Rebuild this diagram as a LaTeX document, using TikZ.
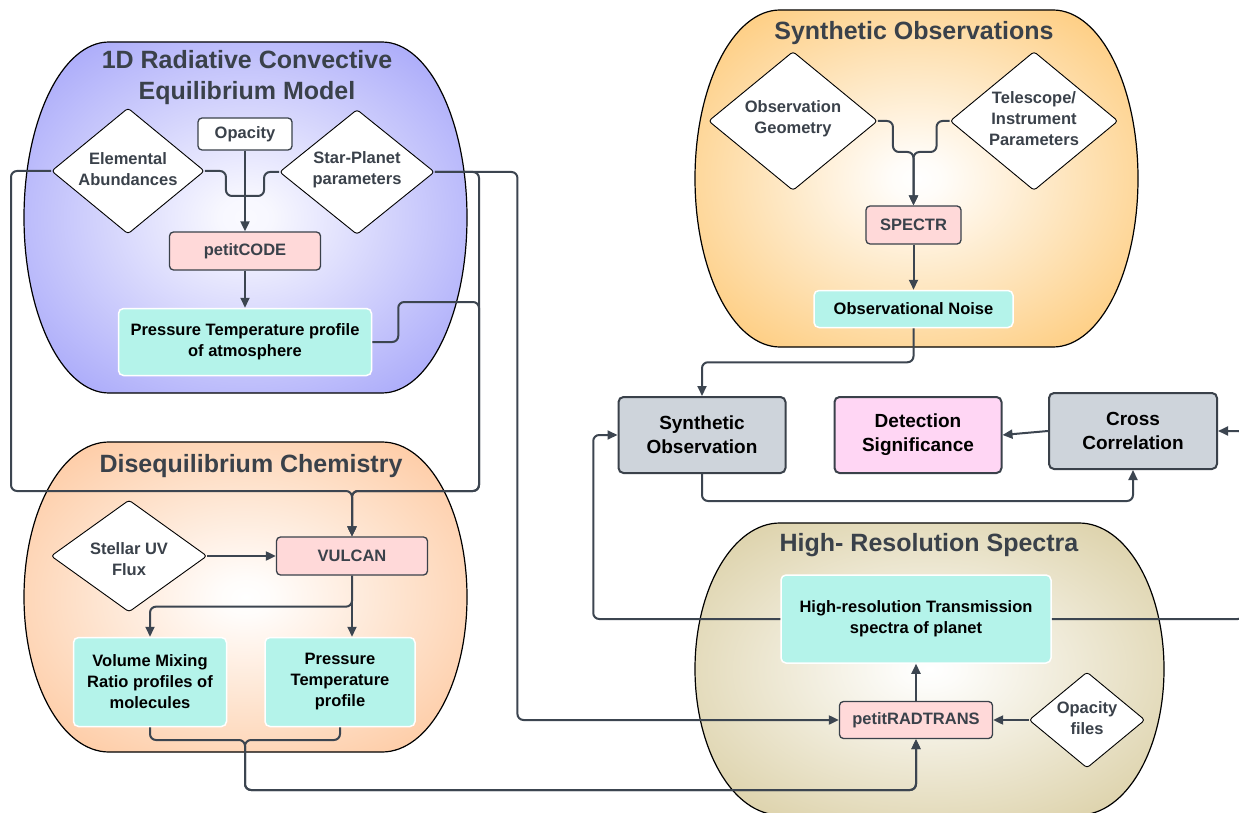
\documentclass[tikz,border=0pt]{standalone}
\usepackage{fontspec}
\setmainfont{Liberation Sans}
\usetikzlibrary{shapes.geometric,arrows.meta,calc}

\definecolor{ink}{HTML}{3A414A}
\definecolor{connc}{HTML}{3C4550}
\definecolor{pinkbox}{HTML}{FFD9D9}
\definecolor{cyanbox}{HTML}{B4F3EA}
\definecolor{graybox}{HTML}{CED4DB}
\definecolor{detbox}{HTML}{FFD6F4}
\definecolor{bblue}{HTML}{9090F8}
\definecolor{borange}{HTML}{FDBB88}
\definecolor{bgold}{HTML}{FDBD58}
\definecolor{bkhaki}{HTML}{D2C490}

\pgfdeclareradialshading{shblue}{\pgfpoint{0bp}{0bp}}{color(0bp)=(white!95!bblue); color(3bp)=(white!93!bblue); color(41bp)=(bblue); color(72bp)=(bblue)}
\pgfdeclareradialshading{shorange}{\pgfpoint{0bp}{0bp}}{color(0bp)=(white); color(3bp)=(white!96!borange); color(41bp)=(borange); color(72bp)=(borange)}
\pgfdeclareradialshading{shgold}{\pgfpoint{0bp}{0bp}}{color(0bp)=(white); color(3bp)=(white!96!bgold); color(41bp)=(bgold); color(72bp)=(bgold)}
\pgfdeclareradialshading{shkhaki}{\pgfpoint{0bp}{0bp}}{color(0bp)=(white); color(3bp)=(white!95!bkhaki); color(41bp)=(bkhaki); color(72bp)=(bkhaki)}

% blob outline: x0 y0 x1 y1 rxTop rxBottom
\newcommand{\blobpath}[6]{(#1+#5,#2) -- (#3-#5,#2)
  arc[start angle=270,end angle=360,x radius=#5,y radius={(#4-#2)/2}]
  arc[start angle=0,end angle=90,x radius=#6,y radius={(#4-#2)/2}]
  -- (#1+#6,#4)
  arc[start angle=90,end angle=180,x radius=#6,y radius={(#4-#2)/2}]
  arc[start angle=180,end angle=270,x radius=#5,y radius={(#4-#2)/2}] -- cycle}

\tikzset{
  blob/.style={draw=black, line width=1.2pt},
  titletext/.style={text=ink, font=\bfseries\fontsize{25}{31}\selectfont, align=center, inner sep=0pt},
  smallfont/.style={font=\bfseries\fontsize{16.5}{21}\selectfont},
  pinkb/.style={rectangle, draw=ink, line width=1.3pt, fill=pinkbox, rounded corners=4pt, text=ink, smallfont, inner sep=0pt},
  whiteb/.style={rectangle, draw=ink, line width=1.3pt, fill=white, rounded corners=4pt, text=ink, smallfont, inner sep=0pt},
  cyanb/.style={rectangle, draw=white, line width=1.5pt, fill=cyanbox, rounded corners=5pt, text=black, smallfont, align=center, inner sep=0pt},
  grayb/.style={rectangle, draw=ink, line width=2pt, fill=graybox, rounded corners=5pt, text=black, font=\bfseries\fontsize{19}{24}\selectfont, align=center, inner sep=0pt},
  detb/.style={grayb, fill=detbox},
  dia/.style={diamond, draw=black, line width=0.9pt, fill=white, inner sep=0pt, rounded corners=3pt},
  diatext/.style={text=ink, smallfont, align=center, inner sep=0pt},
  conn/.style={draw=connc, line width=2pt, rounded corners=6pt},
  arr/.style={conn, -{Triangle[length=10pt,width=9pt]}}
}

\begin{document}
\begin{tikzpicture}[x=1pt,y=-1pt]
\useasboundingbox (0,0) rectangle (1239,813);
\fill[white] (0,0) rectangle (1239,813);
\clip (0,0) rectangle (1239,813);

% ---------- blobs ----------
\path[blob, shading=shblue] \blobpath{24}{42}{467}{393}{85}{85};
\path[blob, shading=shorange] \blobpath{24}{442}{467}{752}{85}{85};
\path[blob, shading=shgold] \blobpath{695}{10}{1138}{347}{85}{85};
\path[blob, shading=shkhaki] \blobpath{695}{523}{1164}{815}{85}{85};

\node[titletext] (t1) at (247,78) {1D Radiative Convective\\Equilibrium Model};
\node[titletext] (t2) at (251,466) {Disequilibrium Chemistry};
\node[titletext] (t3) at (914,33) {Synthetic Observations};
\node[titletext] (t4) at (929,545) {High- Resolution Spectra};

% ---------- 1D RCE ----------
\node[whiteb, minimum width=94pt, minimum height=32pt] (opac) at (245,134) {Opacity};
\node[dia, minimum width=153pt, minimum height=126pt] (elem) at (128,171) {};
\node[diatext] (elemT) at (128,169) {Elemental\\Abundances};
\node[dia, minimum width=155pt, minimum height=125pt] (star) at (357,172) {};
\node[diatext] (starT) at (357,170) {Star-Planet\\parameters};
\node[pinkb, minimum width=151pt, minimum height=38pt] (pcode) at (245,251) {petitCODE};
\node[cyanb, minimum width=253pt, minimum height=67pt] (pt1) at (245,342) {Pressure Temperature profile\\of atmosphere};

% ---------- Disequilibrium ----------
\node[dia, minimum width=156pt, minimum height=112pt] (uv) at (129,556) {};
\node[diatext] (uvT) at (129,559) {Stellar UV\\Flux};
\node[pinkb, minimum width=151pt, minimum height=38pt] (vulcan) at (352,556) {VULCAN};
\node[cyanb, minimum width=153pt, minimum height=89pt] (vmr) at (150,682) {Volume Mixing\\Ratio profiles of\\molecules};
\node[cyanb, minimum width=150pt, minimum height=89pt] (pt2) at (340,682) {Pressure\\Temperature\\profile};

% ---------- Synthetic observations ----------
\node[dia, minimum width=169pt, minimum height=139pt] (geo) at (793,121) {};
\node[diatext] (geoT) at (793,119) {Observation\\Geometry};
\node[dia, minimum width=168pt, minimum height=139pt] (tel) at (1034,121) {};
\node[diatext] (telT) at (1034,119) {Telescope/\\Instrument\\Parameters};
\node[pinkb, minimum width=95pt, minimum height=38pt] (spectr) at (913.5,225) {SPECTR};
\node[cyanb, minimum width=199pt, minimum height=37pt] (noise) at (913.5,309) {Observational Noise};

% ---------- analysis ----------
\node[grayb, minimum width=167pt, minimum height=76pt] (synobs) at (702,435) {Synthetic\\Observation};
\node[detb, minimum width=167pt, minimum height=76pt] (detect) at (918,435) {Detection\\Significance};
\node[grayb, minimum width=168pt, minimum height=76pt] (cross) at (1133,431) {Cross\\Correlation};

% ---------- High resolution ----------
\node[cyanb, minimum width=270pt, minimum height=88pt] (hires) at (916,619) {High-resolution Transmission\\spectra of planet};
\node[pinkb, minimum width=153pt, minimum height=37pt] (prt) at (916,720) {petitRADTRANS};
\node[dia, minimum width=116pt, minimum height=96pt] (opf) at (1087,720) {};
\node[diatext] (opfT) at (1087,718) {Opacity\\files};

% ---------- junction coordinates ----------
\coordinate (jA) at (245,196);
\coordinate (jV) at (352,491);
\coordinate (lX) at (11,491);
\coordinate (rX) at (479,491);
\coordinate (rT) at (479,302);
\coordinate (jB) at (245,740);
\coordinate (bB) at (245,790);
\coordinate (jS) at (913.5,152);

% ---------- connectors ----------
\draw[arr] (opac.south) -- (pcode.north);
\draw[conn] (elem.east) -- ++(21,0) |- (jA);
\draw[conn] (star.west) -- ++(-15,0) |- (jA);
\draw[arr] (pcode.south) -- (pt1.north);

\draw[arr] (elem.west) -| (lX) -- (jV) -- (vulcan.north);
\draw[arr] (star.east) -| (rX) -- (jV) -- (vulcan.north);
\draw[arr] (pt1.east) -- ++(26,0) |- (rT) -- (rX) -- (jV) -- (vulcan.north);
\draw[arr] (star.east) -- ++(82.5,0) |- (prt.west);

\draw[arr] (uv.east) -- (vulcan.west);
\draw[arr] (vulcan.south) -- ++(0,31) -| (vmr.north);
\draw[arr] (vulcan.south) -- (vulcan.south |- pt2.north);
\draw[arr] (vmr.south) |- (jB) -- (bB) -| (prt.south);
\draw[arr] (pt2.south) |- (jB) -- (bB) -| (prt.south);

\draw[arr] (geo.east) -- ++(15,0) |- (jS) -- (spectr.north);
\draw[arr] (tel.west) -- ++(-13,0) |- (jS) -- (spectr.north);
\draw[arr] (spectr.south) -- (noise.north);
\draw[arr] (noise.south) -- ++(0,34) -| (synobs.north);

\draw[arr] (synobs.south) -- ++(0,27) -| (cross.south);
\draw[arr] (cross.west) -- (detect.east);
\draw[arr] (hires.east) -- ++(192,0) |- (cross.east);
\draw[arr] (hires.west) -- ++(-187,0) |- (synobs.west);
\draw[arr] (prt.north) -- (hires.south);
\draw[arr] (opf.west) -- (prt.east);
\end{tikzpicture}
\end{document}
